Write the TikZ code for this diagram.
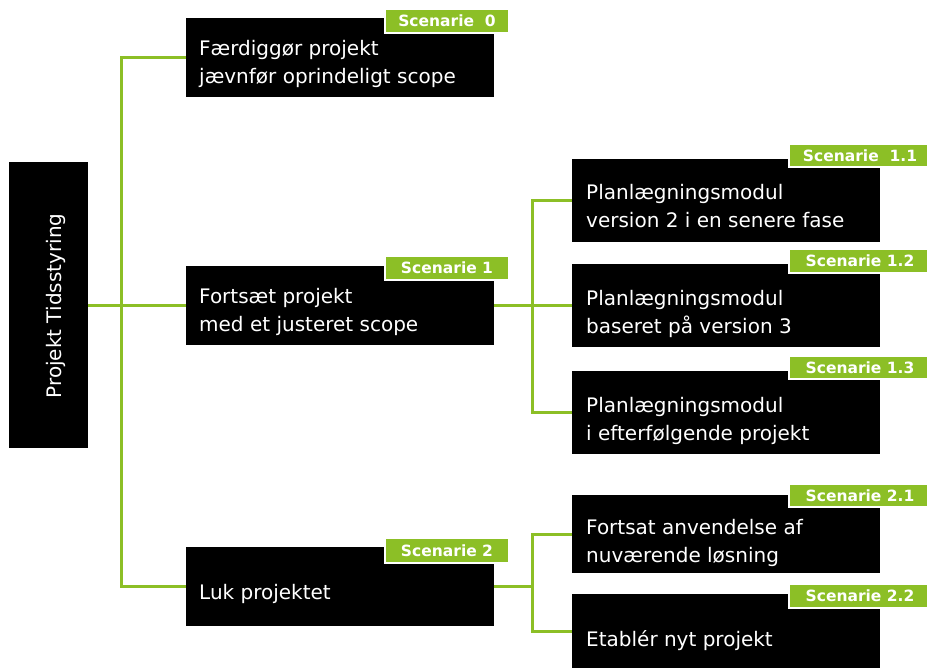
\documentclass[tikz,border=0pt]{standalone}
\usepackage{fontspec}
\setmainfont{DejaVu Sans}
\definecolor{leaf}{RGB}{140,191,38}
\newcommand{\twolines}[1]{\parbox[t]{300pt}{#1}}
\begin{document}
\begin{tikzpicture}[x=1pt,y=-1pt,
  block/.style={fill=black, draw=none, anchor=north west, inner sep=0pt, outer sep=0pt},
  caption/.style={anchor=base west, inner sep=0pt, text=white,
    font=\fontsize{20}{28}\selectfont},
  tag/.style={fill=leaf, draw=white, line width=2pt, anchor=north west, inner sep=0pt,
    text=white, font=\bfseries\fontsize{15.5}{16}\selectfont},
  link/.style={draw=leaf, line width=3pt}]
\useasboundingbox (0,0) rectangle (927,669);

% root
\node[block, minimum width=79pt, minimum height=286pt] (root) at (9,162) {};
\node[caption, rotate=90, anchor=base] (rt) at (61,306) {Projekt Tidsstyring};

% first level
\node[block, minimum width=308pt, minimum height=79pt] (b0) at (186,18) {};
\node[block, minimum width=308pt, minimum height=79pt] (b1) at (186,266) {};
\node[block, minimum width=308pt, minimum height=79pt] (b2) at (186,547) {};

% second level
\node[block, minimum width=308pt, minimum height=83pt] (b11) at (572,159) {};
\node[block, minimum width=308pt, minimum height=83pt] (b12) at (572,264) {};
\node[block, minimum width=308pt, minimum height=83pt] (b13) at (572,371) {};
\node[block, minimum width=308pt, minimum height=78pt] (b21) at (572,495) {};
\node[block, minimum width=308pt, minimum height=74pt] (b22) at (572,594) {};

% texts
\node[caption] (t0) at ([shift={(13,38)}]b0.north west)
  {\twolines{Færdiggør projekt\\jævnfør oprindeligt scope}};
\node[caption] (t1) at ([shift={(13,37)}]b1.north west)
  {\twolines{Fortsæt projekt\\med et justeret scope}};
\node[caption] (t2) at ([shift={(13,52)}]b2.north west) {Luk projektet};
\node[caption] (t11) at ([shift={(14,40)}]b11.north west)
  {\twolines{Planlægningsmodul\\version  2 i en senere fase}};
\node[caption] (t12) at ([shift={(14,41)}]b12.north west)
  {\twolines{Planlægningsmodul\\baseret på version 3}};
\node[caption] (t13) at ([shift={(14,41)}]b13.north west)
  {\twolines{Planlægningsmodul\\i efterfølgende projekt}};
\node[caption] (t21) at ([shift={(14,39)}]b21.north west)
  {\twolines{Fortsat anvendelse af\\nuværende løsning}};
\node[caption] (t22) at ([shift={(14,52)}]b22.north west) {Etablér nyt projekt};

% scenario tags
\node[tag, minimum width=124pt, minimum height=24pt] (s0) at (384,8) {Scenarie\ \ 0};
\node[tag, minimum width=124pt, minimum height=24pt] (s1) at (384,255) {Scenarie 1};
\node[tag, minimum width=124pt, minimum height=25pt] (s2) at (384,537) {Scenarie 2};
\node[tag, minimum width=142pt, minimum height=23pt] (s11) at (788,143) {Scenarie\ \ 1.1};
\node[tag, minimum width=142pt, minimum height=24pt] (s12) at (788,248) {Scenarie 1.2};
\node[tag, minimum width=142pt, minimum height=23pt] (s13) at (788,355) {Scenarie 1.3};
\node[tag, minimum width=142pt, minimum height=23pt] (s21) at (788,483) {Scenarie 2.1};
\node[tag, minimum width=142pt, minimum height=24pt] (s22) at (788,583) {Scenarie 2.2};

% connectors
\draw[link] (root.east) -- (root.east -| b1.west);
\draw[link] (b0.west) -- ++(-65,0) |- (b2.west);
\draw[link] (b1.east) -- (b12.west);
\draw[link] (b11.west) -- ++(-40,0) |- (b13.west);
\draw[link] (b2.east) -- ++(38,0) coordinate (j2);
\draw[link] (b21.west) -- ++(-40,0) |- (b22.west);
\end{tikzpicture}
\end{document}
